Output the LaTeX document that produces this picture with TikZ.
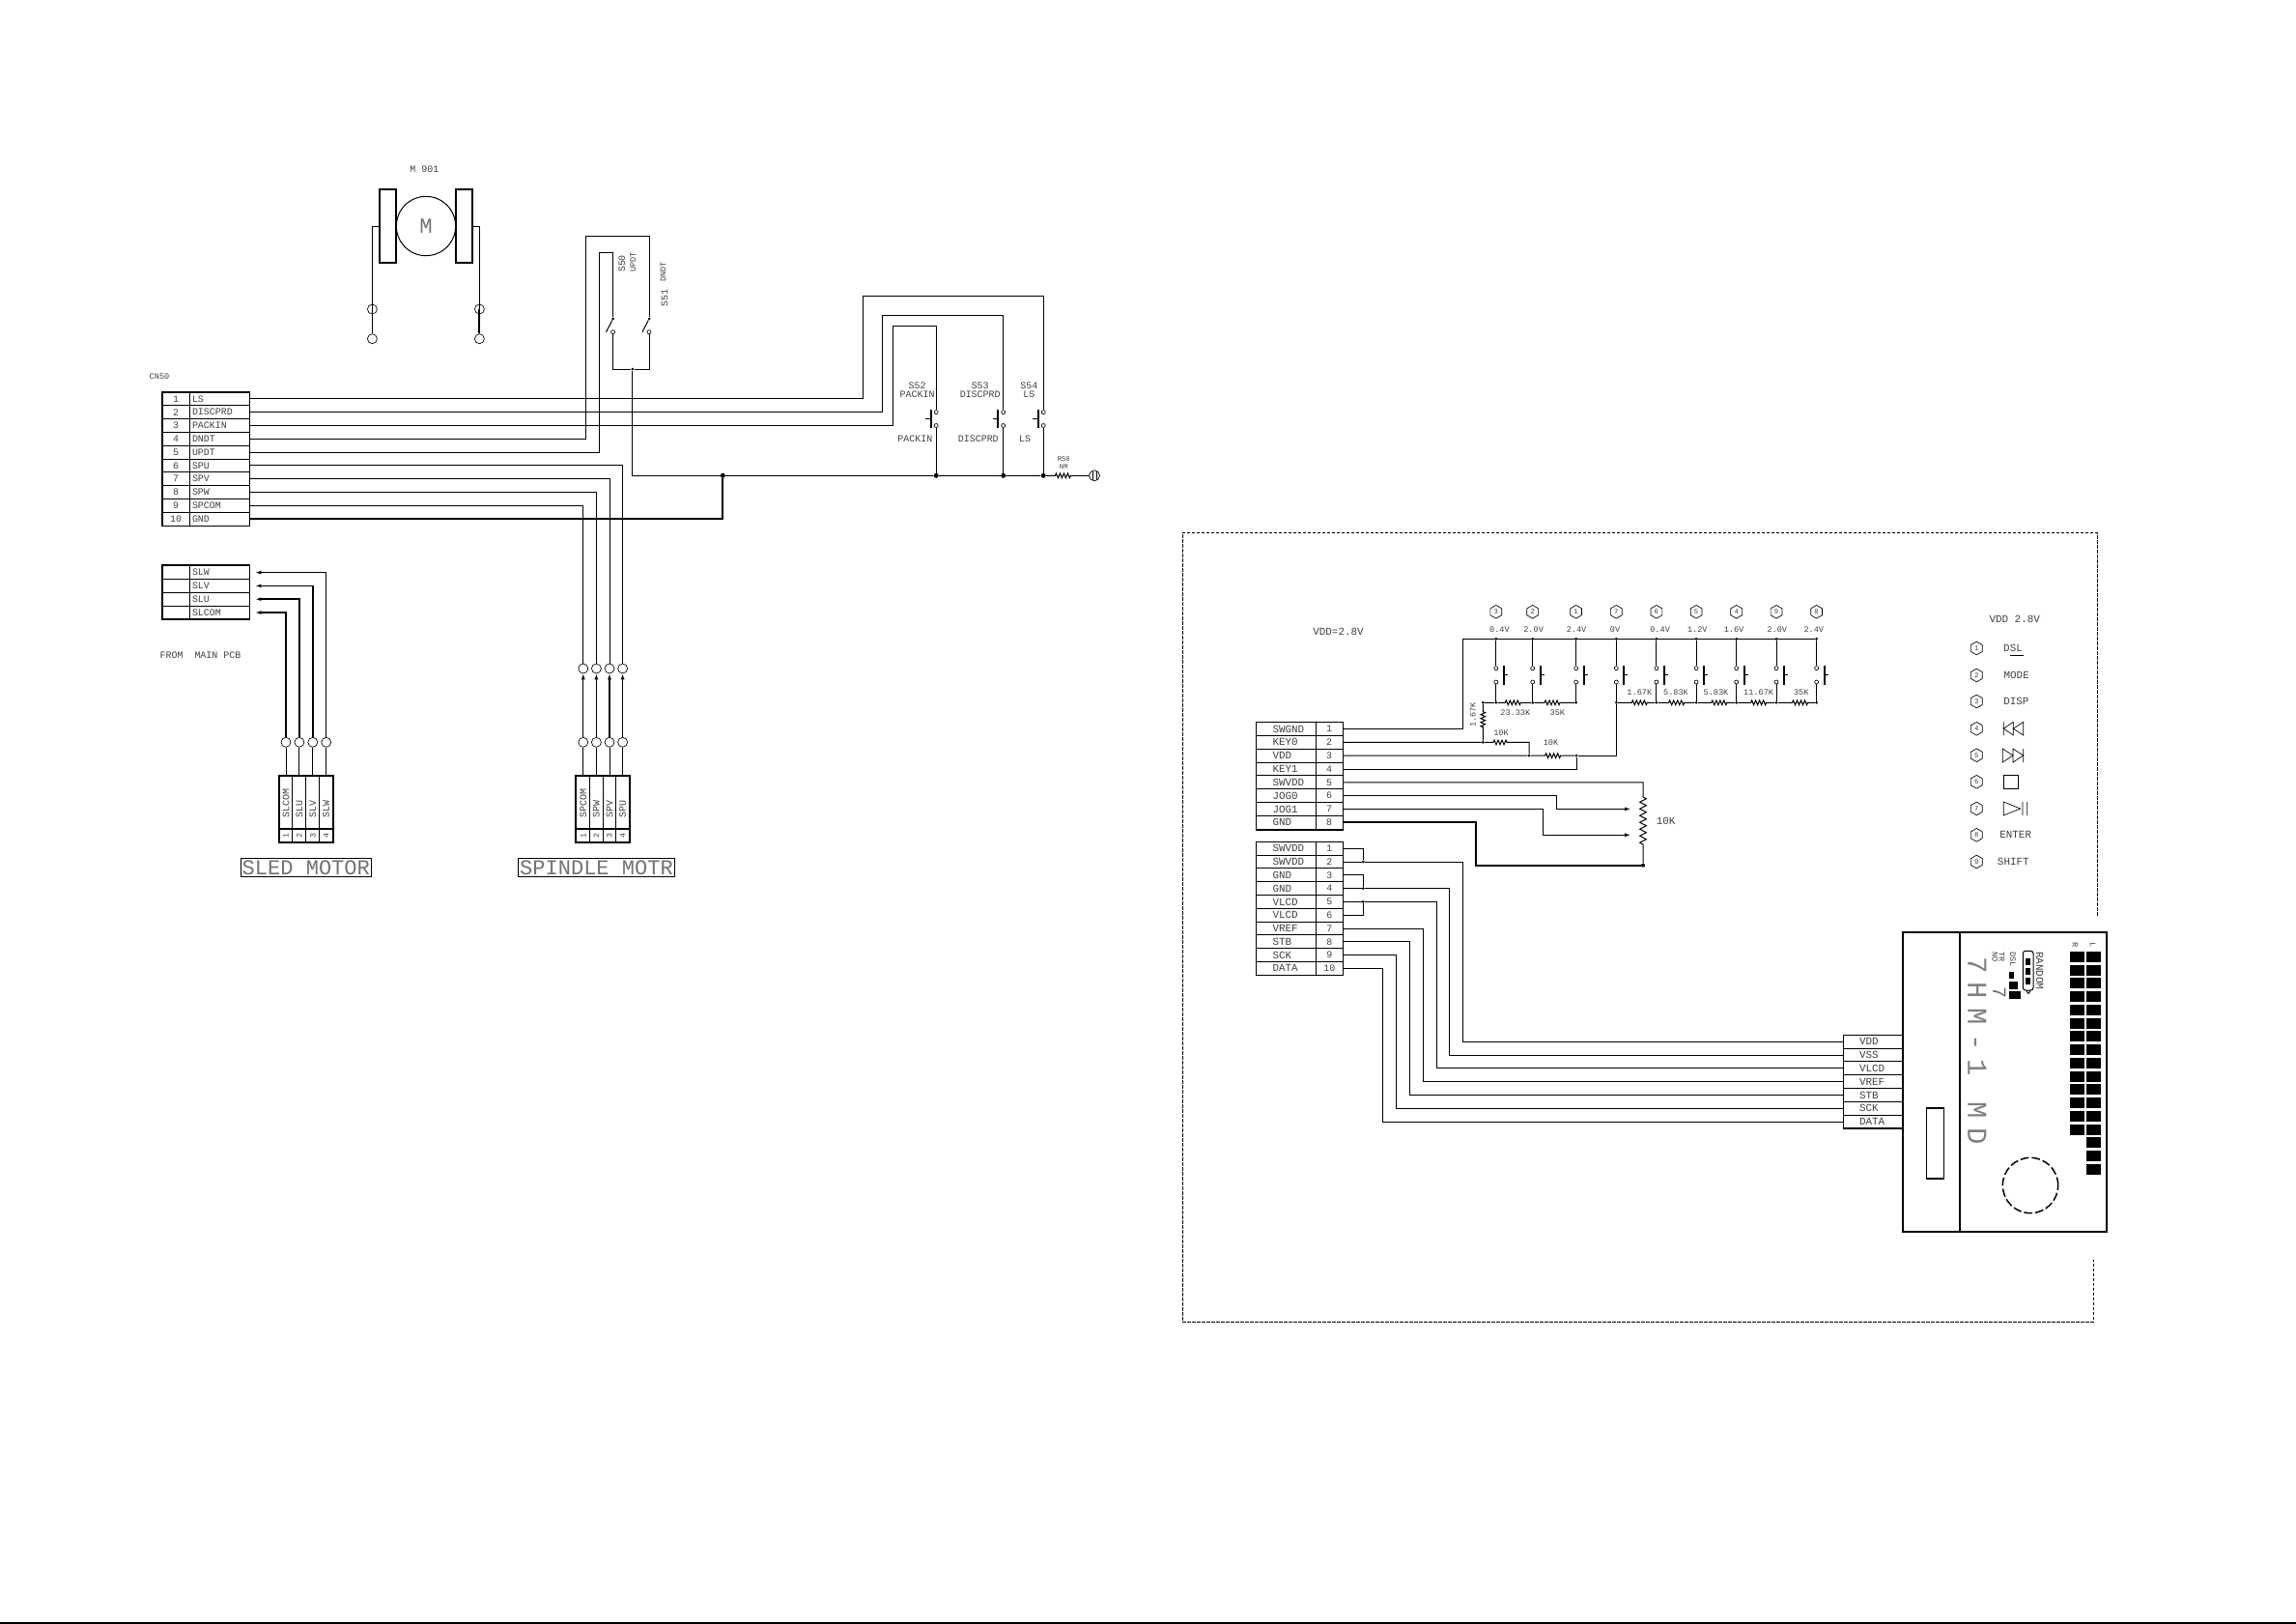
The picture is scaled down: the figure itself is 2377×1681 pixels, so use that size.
\documentclass[tikz,border=0pt]{standalone}
\usepackage{fontspec}
\setmainfont{Liberation Mono}
\newfontfamily\lcdfont[LetterSpace=32]{Liberation Mono}
\usepackage{tikz}
\usetikzlibrary{arrows.meta}
\usetikzlibrary{calc}
\usetikzlibrary{shapes.geometric}
\usetikzlibrary{decorations.pathmorphing}
\begin{document}
\begin{tikzpicture}[x=0.3mm, y=-0.3mm, line cap=butt,
        text_small/.style={font=\fontsize{7.3}{8}\selectfont, text=black!75, inner sep=0pt},
        text_tiny/.style={font=\fontsize{6.2}{7}\selectfont, text=black!75, inner sep=0pt},
        text_norm/.style={font=\fontsize{8.5}{9}\selectfont, text=black!75, inner sep=0pt},
        text_wide/.style={font=\fontsize{9.3}{10}\selectfont, text=black!75, inner sep=0pt},
        pin_cell/.style={rectangle, draw, line width=0.3mm, minimum width=8.4mm, minimum height=4.14mm, inner sep=0pt, text=black!75, font=\fontsize{8.5}{9}\selectfont},
        name_cell/.style={rectangle, draw, line width=0.3mm, minimum height=4.14mm, text width=16.8mm, inner xsep=0.9mm, inner ysep=0pt, align=left, text=black!75, font=\fontsize{8.5}{9}\selectfont},
        name_right/.style={name_cell, font=\fontsize{9.3}{10}\selectfont, execute at begin node={\hspace*{4.2mm}}},
        motor_cell/.style={rectangle, draw, line width=0.3mm, rotate=90, minimum height=4.15mm, text width=9.9mm, inner xsep=3.3mm, inner ysep=0pt, align=left, text=black!75, font=\fontsize{8.5}{9}\selectfont},
        motor_pin/.style={rectangle, draw, line width=0.3mm, rotate=90, minimum height=4.15mm, minimum width=4.3mm, inner sep=0pt, text=black!75, font=\fontsize{7}{8}\selectfont},
        title_box/.style={rectangle, draw, line width=0.3mm, minimum height=5.6mm, inner sep=0pt, text=black!55, font=\fontsize{18.8}{20}\selectfont},
        term_style/.style={circle, draw, line width=0.2mm, minimum size=3mm, inner sep=0pt},
        contact_style/.style={circle, draw, line width=0.2mm, fill=white, minimum size=1.2mm, inner sep=0pt},
        dot_style/.style={circle, fill=black, minimum size=1.5mm, inner sep=0pt},
        small_dot/.style={circle, fill=black, minimum size=0.9mm, inner sep=0pt},
        hex_style/.style={regular polygon, regular polygon sides=6, shape border rotate=30, draw, line width=0.2mm, minimum size=4.1mm, inner sep=0pt, text=black!75, font=\fontsize{6.2}{7}\selectfont},
        wire/.style={draw=black, line width=0.3mm},
        wire_mid/.style={draw=black, line width=0.45mm},
        wire_thick/.style={draw=black, line width=0.6mm},
        box_thick/.style={draw=black, line width=0.55mm},
        bar_style/.style={draw=black, line width=0.6mm},
        tip_wire/.style={-{Latex[length=1.8mm,width=1.2mm]}},
        res_style/.style={decoration={zigzag, amplitude=0.7mm, segment length=1.2mm}},
        pot_style/.style={decoration={zigzag, amplitude=1mm, segment length=2.1mm}},
        frame_style/.style={draw=black, line width=0.25mm, dash pattern=on 1mm off 0.5mm}]

        \useasboundingbox (0,0) rectangle (2377,1681);

        % motor M901
        \node [text_norm](m901) at (439.3,175.3) {M 901};
        \node [rectangle, draw, line width=0.55mm, minimum width=5.1mm, minimum height=23mm, inner sep=0pt](mleft) at (401.5,234) {};
        \node [rectangle, draw, line width=0.55mm, minimum width=5.1mm, minimum height=23mm, inner sep=0pt](mright) at (480.5,234) {};
        \node [circle, draw, line width=0.3mm, minimum size=18.4mm, inner sep=0pt, text=black!55, font=\fontsize{19}{20}\selectfont](mbody) at (441,234) {M};
        \node [term_style](tm1) at (385.4,320) {};
        \node [term_style](tm2) at (385.4,350.7) {};
        \node [term_style](tm3) at (496.4,320) {};
        \node [term_style](tm4) at (496.4,350.7) {};
        \draw [wire] (mleft.west) -| (tm1.center);
        \draw [wire] (tm1.center) -- (tm2);
        \draw [wire] (mright.east) -| (tm3.center);
        \draw [wire_thick] (tm3.center) -- (tm4);

        % connector CN50
        \node [text_small](cn50) at (165,389.3) {CN50};
        \node [pin_cell](cp1) at (182,412.9) {1};
        \node [name_cell](cn1) at (227,412.9) {LS};
        \node [pin_cell](cp2) at (182,426.7) {2};
        \node [name_cell](cn2) at (227,426.7) {DISCPRD};
        \node [pin_cell](cp3) at (182,440.5) {3};
        \node [name_cell](cn3) at (227,440.5) {PACKIN};
        \node [pin_cell](cp4) at (182,454.3) {4};
        \node [name_cell](cn4) at (227,454.3) {DNDT};
        \node [pin_cell](cp5) at (182,468.1) {5};
        \node [name_cell](cn5) at (227,468.1) {UPDT};
        \node [pin_cell](cp6) at (182,481.9) {6};
        \node [name_cell](cn6) at (227,481.9) {SPU};
        \node [pin_cell](cp7) at (182,495.7) {7};
        \node [name_cell](cn7) at (227,495.7) {SPV};
        \node [pin_cell](cp8) at (182,509.5) {8};
        \node [name_cell](cn8) at (227,509.5) {SPW};
        \node [pin_cell](cp9) at (182,523.3) {9};
        \node [name_cell](cn9) at (227,523.3) {SPCOM};
        \node [pin_cell](cp10) at (182,537.1) {10};
        \node [name_cell](cn10) at (227,537.1) {GND};
        \draw [box_thick] (cp1.north west) rectangle (cn10.south east);
        \draw [box_thick] (cp1.north east) -- (cp10.south east);

        % connector from main pcb
        \node [pin_cell](sp1) at (182,592.6) {};
        \node [name_cell](sn1) at (227,592.6) {SLW};
        \node [pin_cell](sp2) at (182,606.4) {};
        \node [name_cell](sn2) at (227,606.4) {SLV};
        \node [pin_cell](sp3) at (182,620.2) {};
        \node [name_cell](sn3) at (227,620.2) {SLU};
        \node [pin_cell](sp4) at (182,634) {};
        \node [name_cell](sn4) at (227,634) {SLCOM};
        \draw [box_thick] (sp1.north west) rectangle (sn4.south east);
        \draw [box_thick] (sp1.north east) -- (sp4.south east);
        \node [text_norm](frompcb) at (207.5,678.7) {FROM~~MAIN PCB};

        % sled motor
        \node [motor_cell](sc1) at (296,830.2) {SLCOM};
        \node [motor_cell](sc2) at (309.9,830.2) {SLU};
        \node [motor_cell](sc3) at (323.8,830.2) {SLV};
        \node [motor_cell](sc4) at (337.7,830.2) {SLW};
        \node [motor_pin](sq1) at (296,865) {1};
        \node [motor_pin](sq2) at (309.9,865) {2};
        \node [motor_pin](sq3) at (323.8,865) {3};
        \node [motor_pin](sq4) at (337.7,865) {4};
        \draw [box_thick] (289,802.7) rectangle (344.6,872.2);
        \draw [box_thick] (289,857.7) -- (344.6,857.7);
        \node [term_style](st1) at (296,768.3) {};
        \node [term_style](st2) at (309.9,768.3) {};
        \node [term_style](st3) at (323.8,768.3) {};
        \node [term_style](st4) at (337.7,768.3) {};
        \coordinate (sa1) at (264.4,592.6);
        \coordinate (sa2) at (264.4,606.4);
        \coordinate (sa3) at (264.4,620.2);
        \coordinate (sa4) at (264.4,634);
        \draw [wire] (sc1.east) -- (st1);
        \draw [wire] (sc2.east) -- (st2);
        \draw [wire] (sc3.east) -- (st3);
        \draw [wire] (sc4.east) -- (st4);
        \draw [wire_thick, tip_wire] (st1) |- (sa4);
        \draw [wire_thick, tip_wire] (st2) |- (sa3);
        \draw [wire_mid, tip_wire] (st3) |- (sa2);
        \draw [wire_mid, tip_wire] (st4) |- (sa1);
        \node [title_box, minimum width=40.4mm](sledtitle) at (316.8,898) {SLED MOTOR};

        % spindle motor
        \node [motor_cell](pc1) at (603.8,830.2) {SPCOM};
        \node [motor_cell](pc2) at (617.4,830.2) {SPW};
        \node [motor_cell](pc3) at (631,830.2) {SPV};
        \node [motor_cell](pc4) at (644.6,830.2) {SPU};
        \node [motor_pin](pq1) at (603.8,865) {1};
        \node [motor_pin](pq2) at (617.4,865) {2};
        \node [motor_pin](pq3) at (631,865) {3};
        \node [motor_pin](pq4) at (644.6,865) {4};
        \draw [box_thick] (596.4,802.7) rectangle (651.6,872.2);
        \draw [box_thick] (596.4,857.7) -- (651.6,857.7);
        \node [term_style](pb1) at (603.8,768.3) {};
        \node [term_style](pb2) at (617.4,768.3) {};
        \node [term_style](pb3) at (631,768.3) {};
        \node [term_style](pb4) at (644.6,768.3) {};
        \node [term_style](pt1) at (603.8,692) {};
        \node [term_style](pt2) at (617.4,692) {};
        \node [term_style](pt3) at (631,692) {};
        \node [term_style](pt4) at (644.6,692) {};
        \draw [wire] (pc1.east) -- (pb1);
        \draw [wire] (pc2.east) -- (pb2);
        \draw [wire] (pc3.east) -- (pb3);
        \draw [wire] (pc4.east) -- (pb4);
        \draw [wire, tip_wire] (pb1) -- (pt1);
        \draw [wire_mid, tip_wire] (pb2) -- (pt2);
        \draw [wire_mid, tip_wire] (pb3) -- (pt3);
        \draw [wire_mid, tip_wire] (pb4) -- (pt4);
        \node [title_box, minimum width=48.6mm](spintitle) at (617.5,898) {SPINDLE MOTR};
        \draw [wire] (cn6.east) -| (pt4);
        \draw [wire] (cn7.east) -| (pt3);
        \draw [wire] (cn8.east) -| (pt2);
        \draw [wire] (cn9.east) -| (pt1);

        % door switches
        \node [small_dot](s50a) at (634.6,330) {};
        \node [contact_style](s50b) at (634.6,343.7) {};
        \node [small_dot](s51a) at (672,330) {};
        \node [contact_style](s51b) at (672,343.7) {};
        \node [small_dot](sjoin) at (654.8,382) {};
        \node [dot_style](gdot) at (748.3,492.3) {};
        \node [text_norm, rotate=90](s50lab) at (643.8,273) {S50};
        \node [text_small, rotate=90](s50up) at (655.4,271.7) {UPDT};
        \node [text_norm, rotate=90](s51lab) at (688.2,308.3) {S51};
        \node [text_small, rotate=90](s51dn) at (686.5,281.7) {DNDT};
        \draw [wire] (cn4.east) -| (606.4,244.3) -| (s51a);
        \draw [wire] (cn5.east) -| (620.4,261.7) -| (s50a);
        \draw [wire] (s50a) -- (627.5,343.7);
        \draw [wire] (s51a) -- (665,343.7);
        \draw [wire] (s50b) |- (sjoin);
        \draw [wire] (s51b) |- (sjoin);
        \draw [wire] (sjoin) |- (gdot);
        \draw [wire_thick] (cn10.east) -| (gdot);

        % push switches
        \node [contact_style](s52a) at (969.2,426.7) {};
        \node [contact_style](s52b) at (969.2,440.5) {};
        \node [dot_style](s52d) at (969.2,492.3) {};
        \node [contact_style](s53a) at (1038.7,426.7) {};
        \node [contact_style](s53b) at (1038.7,440.5) {};
        \node [dot_style](s53d) at (1038.7,492.3) {};
        \node [contact_style](s54a) at (1080.2,426.7) {};
        \node [contact_style](s54b) at (1080.2,440.5) {};
        \node [dot_style](s54d) at (1080.2,492.3) {};
        \draw [wire] (cn1.east) -| (893.7,306.3) -| (s54a);
        \draw [wire] (cn2.east) -| (913.3,326.7) -| (s53a);
        \draw [wire] (cn3.east) -| (924.8,337.3) -| (s52a);
        \draw [wire] (s52b) -- (s52d);
        \draw [wire] (s53b) -- (s53d);
        \draw [wire] (s54b) -- (s54d);
        \draw [bar_style] (963.6,424) -- (963.6,443.3);
        \draw [wire_mid] (958,433.5) -- (963.6,433.5);
        \draw [bar_style] (1033.2,424) -- (1033.2,443.3);
        \draw [wire_mid] (1027.6,433.5) -- (1033.2,433.5);
        \draw [bar_style] (1074.6,424) -- (1074.6,443.3);
        \draw [wire_mid] (1069,433.5) -- (1074.6,433.5);
        \node [text_norm](s52lab) at (949.6,399) {S52};
        \node [text_norm](s52up) at (949.6,408.7) {PACKIN};
        \node [text_norm](s53lab) at (1014.7,399) {S53};
        \node [text_norm](s53up) at (1014.7,408.7) {DISCPRD};
        \node [text_norm](s54lab) at (1065.4,399) {S54};
        \node [text_norm](s54up) at (1065.4,408.7) {LS};
        \node [text_norm](s52low) at (947.4,454.7) {PACKIN};
        \node [text_norm](s53low) at (1012.8,454.7) {DISCPRD};
        \node [text_norm](s54low) at (1061,454.7) {LS};
        \node [text_tiny](r50) at (1101.3,475.3) {R50};
        \node [text_tiny](r50v) at (1101.3,482.7) {NM};
        \node [term_style, minimum size=3.3mm](gnd1) at (1133,492.3) {};
        \draw [wire] (1131,488) -- (1131,496.6);
        \draw [wire] (1135,488) -- (1135,496.6);
        \draw [wire] (gdot) -- (s52d) -- (s53d) -- (s54d) -- (1092.4,492.3) decorate [res_style] {-- (1109,492.3)} -- (gnd1);

        % key matrix
        \foreach \n/\xx/\dg in {1/1548.8/3, 2/1586.7/2, 3/1631.6/1, 4/1673.3/7, 5/1714.9/6, 6/1756.1/5, 7/1797.7/4, 8/1839/9, 9/1880.6/8} {
            \node [hex_style](kh\n) at (\xx,633.3) {\dg};
            \node [small_dot](kt\n) at (\xx,661.3) {};
            \node [contact_style](ka\n) at (\xx,691.7) {};
            \node [contact_style](kb\n) at (\xx,706) {};
            \node [small_dot](kl\n) at (\xx,727.3) {};
            \draw [wire] (kt\n) -- (ka\n);
            \draw [wire] (kb\n) -- (kl\n);
            \draw [bar_style] ({\xx+8},689.3) -- ({\xx+8},709);
            \draw [wire_mid] ({\xx+8},698.5) -- ({\xx+12},698.5);
        }
        \node [text_wide](vddlab) at (1385.5,654) {VDD=2.8V};
        \node [text_small](v1) at (1552.4,651.3) {0.4V};
        \node [text_small](v2) at (1587.6,651.3) {2.0V};
        \node [text_small](v3) at (1632,651.3) {2.4V};
        \node [text_small](v4) at (1672,651.3) {0V};
        \node [text_small](v5) at (1718.6,651.3) {0.4V};
        \node [text_small](v6) at (1757.3,651.3) {1.2V};
        \node [text_small](v7) at (1795,651.3) {1.6V};
        \node [text_small](v8) at (1839.8,651.3) {2.0V};
        \node [text_small](v9) at (1877.8,651.3) {2.4V};
        \node [small_dot](kv) at (1535.3,727.3) {};
        \node [small_dot](kj) at (1535.3,768.4) {};
        \node [small_dot](kk) at (1583,782.2) {};
        \node [small_dot](kq) at (1632,782.2) {};
        \draw [wire] (kv) -- (kl1) -- (1558.3,727.3) decorate [res_style] {-- (1574.3,727.3)} -- (kl2) -- (1599,727.3) decorate [res_style] {-- (1615,727.3)} -- (kl3);
        \draw [wire] (kl4) -- (1689.3,727.3) decorate [res_style] {-- (1705.3,727.3)} -- (kl5) -- (1727.7,727.3) decorate [res_style] {-- (1743.7,727.3)} -- (kl6) -- (1771.8,727.3) decorate [res_style] {-- (1787.8,727.3)} -- (kl7) -- (1812.6,727.3) decorate [res_style] {-- (1828.6,727.3)} -- (kl8) -- (1855.5,727.3) decorate [res_style] {-- (1871.5,727.3)} -- (kl9);
        \node [text_small](r1) at (1568.8,737.3) {23.33K};
        \node [text_small](r2) at (1612.4,737.3) {35K};
        \node [text_small](r3) at (1697.3,716.7) {1.67K};
        \node [text_small](r4) at (1735,716.7) {5.83K};
        \node [text_small](r5) at (1776.5,716.7) {5.83K};
        \node [text_small](r6) at (1820.6,716.7) {11.67K};
        \node [text_small](r7) at (1864.7,716.7) {35K};
        \node [text_small, rotate=90](r8) at (1524.7,740) {1.67K};
        \node [text_small](r9) at (1554,758.3) {10K};
        \node [text_small](r10) at (1605.5,768.7) {10K};
        \node [text_wide](r11) at (1724.7,850) {10K};

        % upper key connector
        \node [name_right](ju1n) at (1331.5,754.6) {SWGND};
        \node [pin_cell](ju1) at (1376.2,754.6) {1};
        \node [name_right](ju2n) at (1331.5,768.4) {KEY0};
        \node [pin_cell](ju2) at (1376.2,768.4) {2};
        \node [name_right](ju3n) at (1331.5,782.2) {VDD};
        \node [pin_cell](ju3) at (1376.2,782.2) {3};
        \node [name_right](ju4n) at (1331.5,796) {KEY1};
        \node [pin_cell](ju4) at (1376.2,796) {4};
        \node [name_right](ju5n) at (1331.5,809.8) {SWVDD};
        \node [pin_cell](ju5) at (1376.2,809.8) {5};
        \node [name_right](ju6n) at (1331.5,823.6) {JOG0};
        \node [pin_cell](ju6) at (1376.2,823.6) {6};
        \node [name_right](ju7n) at (1331.5,837.4) {JOG1};
        \node [pin_cell](ju7) at (1376.2,837.4) {7};
        \node [name_right](ju8n) at (1331.5,851.2) {GND};
        \node [pin_cell](ju8) at (1376.2,851.2) {8};
        \draw [box_thick] (ju8n.south west) -- (ju8.south east);
        \draw [wire] (ju1.east) -| (1514.5,661.3) -- (kt9);
        \draw [wire] (kv) -- (1535.3,736.7) decorate [res_style] {-- (1535.3,753.3)} -- (kj);
        \draw [wire] (ju2.east) -- (kj) -- (1546,768.4) decorate [res_style] {-- (1561,768.4)} -| (kk);
        \draw [wire] (ju3.east) -- (kk) -- (1599.6,782.2) decorate [res_style] {-- (1615.6,782.2)} -- (kq);
        \draw [wire] (kq) -| (kl4);
        \draw [wire] (ju4.east) -| (kq);
        \coordinate (ptop) at (1701,825);
        \coordinate (pwa) at (1688,837.4);
        \coordinate (pwb) at (1688,864.3);
        \node [small_dot, minimum size=1.2mm](pdot) at (1701,895.7) {};
        \draw [wire] (ju5.east) -| (ptop) decorate [pot_style] {-- (1701,875)} -- (pdot);
        \draw [wire, tip_wire] (ju6.east) -| (1611.2,837.4) -- (pwa);
        \draw [wire, tip_wire] (ju7.east) -| (1597.3,864.3) -- (pwb);
        \draw [wire_thick] (ju8.east) -| (1528,895.7) -- (pdot);

        % lower lcd connector
        \node [name_right](jl1n) at (1331.5,878.2) {SWVDD};
        \node [pin_cell](jl1) at (1376.4,878.2) {1};
        \node [name_right](jl2n) at (1331.5,892) {SWVDD};
        \node [pin_cell](jl2) at (1376.4,892) {2};
        \node [name_right](jl3n) at (1331.5,905.8) {GND};
        \node [pin_cell](jl3) at (1376.4,905.8) {3};
        \node [name_right](jl4n) at (1331.5,919.6) {GND};
        \node [pin_cell](jl4) at (1376.4,919.6) {4};
        \node [name_right](jl5n) at (1331.5,933.4) {VLCD};
        \node [pin_cell](jl5) at (1376.4,933.4) {5};
        \node [name_right](jl6n) at (1331.5,947.2) {VLCD};
        \node [pin_cell](jl6) at (1376.4,947.2) {6};
        \node [name_right](jl7n) at (1331.5,961) {VREF};
        \node [pin_cell](jl7) at (1376.4,961) {7};
        \node [name_right](jl8n) at (1331.5,974.8) {STB};
        \node [pin_cell](jl8) at (1376.4,974.8) {8};
        \node [name_right](jl9n) at (1331.5,988.6) {SCK};
        \node [pin_cell](jl9) at (1376.4,988.6) {9};
        \node [name_right](jl10n) at (1331.5,1002.4) {DATA};
        \node [pin_cell](jl10) at (1376.4,1002.4) {10};
        \node [small_dot](jd2) at (1411.3,892) {};
        \node [small_dot](jd4) at (1411.3,919.6) {};
        \node [small_dot](jd5) at (1411.3,933.4) {};
        \draw [wire] (jl1.east) -| (jd2);
        \draw [wire] (jl3.east) -| (jd4);
        \draw [wire] (jl6.east) -| (jd5);

        % lcd module
        \node [rectangle, draw, line width=0.55mm, minimum width=63.3mm, minimum height=93mm, inner sep=0pt](lcd) at (2075.5,1120) {};
        \draw [box_thick] (2029,965) -- (2029,1275);
        \node [name_right](ld1) at (1939,1078.2) {VDD};
        \node [name_right](ld2) at (1939,1092) {VSS};
        \node [name_right](ld3) at (1939,1105.8) {VLCD};
        \node [name_right](ld4) at (1939,1119.6) {VREF};
        \node [name_right](ld5) at (1939,1133.4) {STB};
        \node [name_right](ld6) at (1939,1147.2) {SCK};
        \node [name_right](ld7) at (1939,1161) {DATA};
        \draw [box_thick] (ld7.south west) -- (ld7.south east);
        \draw [wire] (jl2.east) -- (jd2) -- (1514.7,892) |- (ld1.west);
        \draw [wire] (jl4.east) -- (jd4) -- (1500.7,919.6) |- (ld2.west);
        \draw [wire] (jl5.east) -- (jd5) -- (1487.3,933.4) |- (ld3.west);
        \draw [wire] (jl7.east) -- (1473.3,961) |- (ld4.west);
        \draw [wire] (jl8.east) -- (1459.3,974.8) |- (ld5.west);
        \draw [wire] (jl9.east) -- (1445.3,988.6) |- (ld6.west);
        \draw [wire] (jl10.east) -- (1431.3,1002.4) |- (ld7.west);
        \draw [draw=black, line width=0.4mm] (1994.7,1147) rectangle (2012.3,1220);
        \node [anchor=west, rotate=-90, inner sep=0pt, text=black!50, font=\lcdfont\fontsize{24.7}{26}\selectfont](lcdname) at (2047,990) {7HM-1 MD};
        \node [anchor=west, rotate=-90, inner sep=0pt, text=black!60, font=\fontsize{17}{18}\selectfont](lcd7) at (2070,1021) {7};
        \node [text_small, anchor=west, rotate=-90](lcdno) at (2065.5,985) {NO};
        \node [text_small, anchor=west, rotate=-90](lcdtr) at (2072.5,985) {TR};
        \node [text_small, anchor=west, rotate=-90](lcddsl) at (2084,985) {DSL};
        \node [text_wide, anchor=west, rotate=-90](lcdrnd) at (2111.7,985) {RANDOM};
        \node [text_small, rotate=-90](lcdr) at (2148.3,978) {R};
        \node [text_small, rotate=-90](lcdl) at (2166.7,978) {L};
        \fill (2080,1005.7) rectangle (2085.3,1012.7);
        \fill (2080,1016) rectangle (2089.3,1024);
        \fill (2080,1026.3) rectangle (2092,1034);
        \draw [wire, rounded corners=0.8mm] (2094.3,984.3) rectangle (2105,1025);
        \draw [wire] (2098,1025) -- (2099.2,1028) -- (2100.6,1028) -- (2102,1025);
        \fill (2097.3,991.7) rectangle (2102,999.3);
        \fill (2097.3,1002) rectangle (2102,1009.3);
        \fill (2097.3,1012) rectangle (2102,1019);
        \foreach \i in {0,...,16} {
            \fill (2160,{985+13.73*\i}) rectangle (2175,{996+13.73*\i});
        }
        \foreach \i in {0,...,13} {
            \fill (2142.7,{985+13.73*\i}) rectangle (2158,{996+13.73*\i});
        }
        \node [circle, draw, line width=0.45mm, dash pattern=on 2.6mm off 0.9mm, minimum size=17.2mm, inner sep=0pt](lcddisc) at (2102,1227) {};

        % key legend
        \node [text_wide](legvdd) at (2085.7,640.7) {VDD 2.8V};
        \node [hex_style](lh1) at (2046.3,671) {1};
        \node [hex_style](lh2) at (2046.3,699) {2};
        \node [hex_style](lh3) at (2046.3,726) {3};
        \node [hex_style](lh4) at (2046.3,754.3) {4};
        \node [hex_style](lh5) at (2046.3,781.7) {5};
        \node [hex_style](lh6) at (2046.3,809.3) {6};
        \node [hex_style](lh7) at (2046.3,837) {7};
        \node [hex_style](lh8) at (2046.3,864.3) {8};
        \node [hex_style](lh9) at (2046.3,892) {9};
        \node [text_wide](leg1) at (2084,671) {DSL};
        \draw [wire] (2080.7,678) -- (2094.7,678);
        \node [text_wide](leg2) at (2087.7,699) {MODE};
        \node [text_wide](leg3) at (2087.3,726) {DISP};
        \node [text_wide](leg8) at (2086.7,864.3) {ENTER};
        \node [text_wide](leg9) at (2084.3,892) {SHIFT};
        \draw [draw=black, line width=0.2mm] (2074.3,747.3) -- (2074.3,761) (2084.3,747.3) -- (2074.3,754.2) -- (2084.3,761) -- cycle (2094.7,747.3) -- (2084.3,754.2) -- (2094.7,761) -- cycle;
        \draw [draw=black, line width=0.2mm] (2094.7,775) -- (2094.7,789) (2073.3,775) -- (2084,782) -- (2073.3,789) -- cycle (2084,775) -- (2094.7,782) -- (2084,789) -- cycle;
        \draw [draw=black, line width=0.3mm] (2074.3,802.3) rectangle (2089,816.7);
        \draw [draw=black, line width=0.2mm] (2074.3,830) -- (2091.7,837) -- (2074.3,844) -- cycle (2094,830) -- (2094,844) (2098.7,830) -- (2098.7,844);

        % dotted frame
        \draw [frame_style] (2171,947.7) -- (2171,551.3) -- (1224.3,551.3) -- (1224.3,1368.3) -- (2167.3,1368.3) -- (2167.3,1304);

        % page edge
        \draw [draw=black, line width=0.4mm] (0,1680) -- (2377,1680);
\end{tikzpicture}
\end{document}
